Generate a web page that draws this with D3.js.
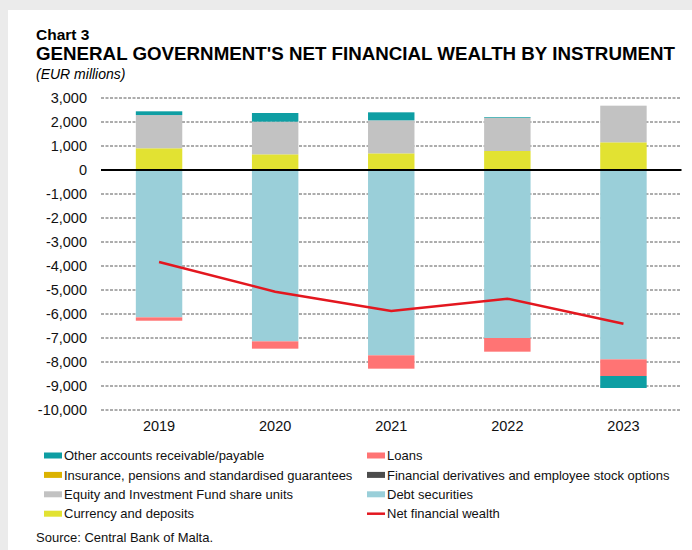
<!DOCTYPE html>
<html>
<head>
<meta charset="utf-8">
<script src="https://cdn.jsdelivr.net/npm/d3@7"></script>
<style>
  body { margin: 0; background: #ebebeb; }
  svg { display: block; font-family: "Liberation Sans", Arial, sans-serif; }
</style>
</head>
<body>
<svg></svg>
<script>
// data (EUR millions)
let years = ["2019", "2020", "2021", "2022", "2023"]
let currency = [905, 653, 694, 792, 1153]
let equity = [1385, 1361, 1375, 1388, 1527]
let otherAccounts = [155, 361, 334, 28, -500]
let insurance = [0, 0, 0, 0, 0]
let derivatives = [0, 0, 0, 0, 0]
let debt = [-6140, -7140, -7722, -7000, -7890]
let loans = [-140, -305, -556, -570, -693]
let netWealth = [-3835, -5070, -5875, -5362, -6403]
let yTicks = [3000, 2000, 1000, 0, -1000, -2000, -3000, -4000, -5000, -6000, -7000, -8000, -9000, -10000]

let width = 692
let height = 550

let colors = {
    other: "#0e9ea3",
    loans: "#ff7474",
    insurance: "#dbb200",
    derivatives: "#4c4c4c",
    equity: "#c2c2c2",
    debt: "#9acfd9",
    currency: "#e2e232",
    net: "#e3171f"
}

let svg = d3.select("svg")
    .attr("width", width)
    .attr("height", height)

// white panel
svg.append("rect")
    .attr("x", 8)
    .attr("y", 10)
    .attr("width", width - 8)
    .attr("height", height - 10)
    .attr("fill", "#fff")

// titles
svg.append("text").attr("x", 36).attr("y", 40)
    .attr("font-size", 15.5).attr("font-weight", "bold").text("Chart 3")
svg.append("text").attr("x", 36).attr("y", 59.5)
    .attr("font-size", 17.5).attr("font-weight", "bold")
    .attr("textLength", 639).attr("lengthAdjust", "spacingAndGlyphs")
    .text("GENERAL GOVERNMENT'S NET FINANCIAL WEALTH BY INSTRUMENT")
svg.append("text").attr("x", 36).attr("y", 78.5)
    .attr("font-size", 14).attr("font-style", "italic").text("(EUR millions)")

// table for the stack
let rows = years.map((y, i) => ({
    year: y,
    currency: currency[i],
    debt: debt[i],
    equity: equity[i],
    loans: loans[i],
    insurance: insurance[i],
    derivatives: derivatives[i],
    other: otherAccounts[i]
}))
let keys = ["currency", "debt", "equity", "loans", "insurance", "derivatives", "other"]
let series = d3.stack().keys(keys).offset(d3.stackOffsetDiverging)(rows)

let xScale = d3.scaleBand()
    .domain(years)
    .range([101, 681.5])
    .paddingInner(0.6)
    .paddingOuter(0.3)

let yScale = d3.scaleLinear()
    .domain([-10000, 3000])
    .range([410, 98])

// gridlines
svg.append("g")
    .selectAll("line")
    .data(yTicks.filter(d => d != 0))
    .enter()
    .append("line")
    .attr("x1", 101)
    .attr("x2", 681.5)
    .attr("y1", d => yScale(d))
    .attr("y2", d => yScale(d))
    .attr("stroke", "#5a5a5a")
    .attr("stroke-width", 1)
    .attr("stroke-dasharray", "3,1.5")

// bars
svg.append("g")
    .selectAll("g")
    .data(series)
    .enter()
    .append("g")
    .attr("fill", d => colors[d.key])
    .selectAll("rect")
    .data(d => d)
    .enter()
    .append("rect")
    .attr("x", d => xScale(d.data.year))
    .attr("width", xScale.bandwidth())
    .attr("y", d => yScale(Math.max(d[0], d[1])))
    .attr("height", d => Math.abs(yScale(d[0]) - yScale(d[1])))

// zero line
svg.append("line")
    .attr("x1", 101)
    .attr("x2", 681.5)
    .attr("y1", yScale(0))
    .attr("y2", yScale(0))
    .attr("stroke", "#000")
    .attr("stroke-width", 2)

// net financial wealth line
let line = d3.line()
    .x((d, i) => xScale(years[i]) + xScale.bandwidth() / 2)
    .y(d => yScale(d))
svg.append("path")
    .datum(netWealth)
    .attr("d", line)
    .attr("fill", "none")
    .attr("stroke", colors.net)
    .attr("stroke-width", 2.5)

// axes
let fmt = d3.format(",")
let yAxis = d3.axisLeft(yScale)
    .tickValues(yTicks)
    .tickFormat(d => fmt(d).replace("\u2212", "-"))
    .tickSize(0)
    .tickPadding(0)
svg.append("g")
    .attr("transform", "translate(87, 0)")
    .call(yAxis)
    .call(g => g.select(".domain").remove())
    .selectAll("text")
    .attr("font-size", 14.5)
    .attr("font-family", "Liberation Sans, Arial, sans-serif")
    .attr("fill", "#111")

let xAxis = d3.axisBottom(xScale).tickSize(0).tickPadding(0)
svg.append("g")
    .attr("transform", "translate(0, 421)")
    .call(xAxis)
    .call(g => g.select(".domain").remove())
    .selectAll("text")
    .attr("font-size", 14.5)
    .attr("font-family", "Liberation Sans, Arial, sans-serif")
    .attr("fill", "#111")

// legend
let legendLeft = [
    ["Other accounts receivable/payable", colors.other],
    ["Insurance, pensions and standardised guarantees", colors.insurance],
    ["Equity and Investment Fund share units", colors.equity],
    ["Currency and deposits", colors.currency]
]
let legendRight = [
    ["Loans", colors.loans],
    ["Financial derivatives and employee stock options", colors.derivatives],
    ["Debt securities", colors.debt],
    ["Net financial wealth", colors.net]
]

let drawLegend = (items, x) => {
    items.forEach((item, i) => {
        let cy = 455.5 + i * 19.4
        if (item[0] == "Net financial wealth") {
            svg.append("line")
                .attr("x1", x).attr("x2", x + 18)
                .attr("y1", cy).attr("y2", cy)
                .attr("stroke", item[1]).attr("stroke-width", 2.5)
        } else {
            svg.append("rect")
                .attr("x", x).attr("y", cy - 3)
                .attr("width", 18).attr("height", 6)
                .attr("fill", item[1])
        }
        svg.append("text")
            .attr("x", x + 20)
            .attr("y", cy + 4.6)
            .attr("font-size", 13)
            .attr("fill", "#111")
            .text(item[0])
    })
}
drawLegend(legendLeft, 44)
drawLegend(legendRight, 367)

svg.append("text")
    .attr("x", 36)
    .attr("y", 541.5)
    .attr("font-size", 13)
    .attr("fill", "#111")
    .text("Source: Central Bank of Malta.")
</script>
</body>
</html>
